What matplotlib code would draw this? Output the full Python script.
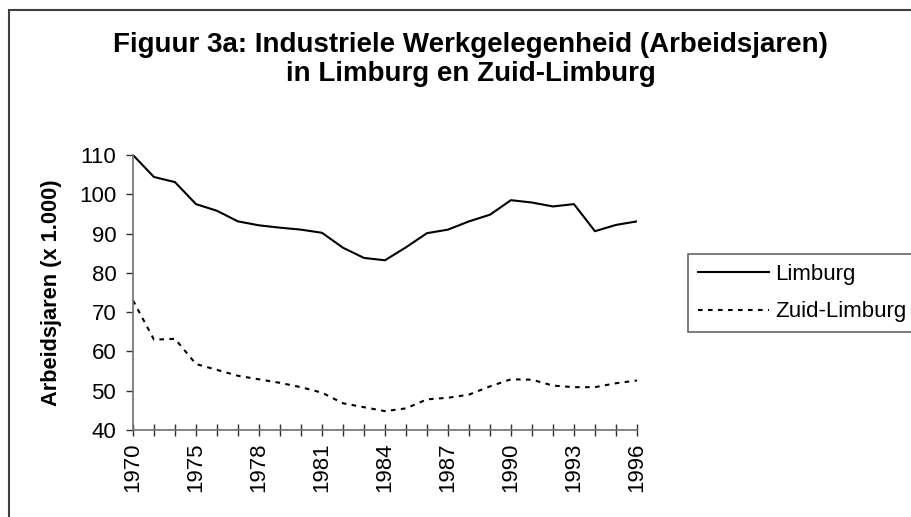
import matplotlib.pyplot as plt
from matplotlib.patches import Rectangle

plt.rcParams['font.family'] = ['Liberation Sans', 'DejaVu Sans']

# categories (only every third label is shown on the axis)
years = ['1970', '1972', '1974', '1975', '1976', '1977', '1978', '1979', '1980',
         '1981', '1982', '1983', '1984', '1985', '1986', '1987', '1988', '1989',
         '1990', '1991', '1992', '1993', '1994', '1995', '1996']
limburg = [110.0, 104.4, 103.1, 97.5, 95.8, 93.1, 92.1, 91.5, 91.0, 90.2, 86.4,
           83.8, 83.2, 86.5, 90.1, 91.0, 93.1, 94.8, 98.5, 97.9, 96.9, 97.5,
           90.6, 92.2, 93.1]
zuid_limburg = [73.0, 63.0, 63.2, 56.8, 55.3, 53.8, 52.9, 52.0, 50.9, 49.5, 46.8,
                45.8, 44.8, 45.5, 47.8, 48.2, 49.0, 51.1, 52.9, 52.8, 51.3, 50.9,
                50.9, 51.9, 52.6]
y_ticks = [40, 50, 60, 70, 80, 90, 100, 110]

fig = plt.figure(figsize=(9.12, 5.17), dpi=100)
ax = fig.add_axes([0.1458, 0.1683, 0.5526, 0.5319])

x = list(range(len(years)))
ax.plot(x, limburg, color='black', lw=1.5, label='Limburg')
ax.plot(x, zuid_limburg, color='black', lw=1.5, dashes=(2.2, 2.6), label='Zuid-Limburg')

ax.set_xlim(0, len(years) - 1)
ax.set_ylim(40, 110)
ax.set_yticks(y_ticks)
ax.set_xticks(x)
ax.set_xticklabels([y if i % 3 == 0 else '' for i, y in enumerate(years)], rotation=90)

for s in ['top', 'right']:
    ax.spines[s].set_visible(False)
for s in ['left', 'bottom']:
    ax.spines[s].set_color('#707070')
    ax.spines[s].set_linewidth(1.2)

ax.tick_params(axis='y', direction='out', length=5, width=1, color='#303030',
               labelsize=16, pad=7)
ax.tick_params(axis='x', direction='inout', length=8, width=1, color='#303030',
               labelsize=16, pad=5)

ax.set_ylabel('Arbeidsjaren (x 1.000)', fontsize=15.7, fontweight='bold', labelpad=12)

fig.text(0.516, 0.884, 'Figuur 3a: Industriele Werkgelegenheid (Arbeidsjaren)\n'
         'in Limburg en Zuid-Limburg', ha='center', va='center',
         fontsize=20, fontweight='bold', linespacing=1.15)

leg = ax.legend(loc='center left', bbox_to_anchor=(0.754, 0.433),
                bbox_transform=fig.transFigure, fontsize=16, frameon=True,
                fancybox=False, handlelength=3.2, handletextpad=0.3,
                borderpad=0.45, labelspacing=0.75, borderaxespad=0)
leg.get_frame().set_edgecolor('#404040')
leg.get_frame().set_linewidth(1.2)

# outer chart border, running off the right and bottom edges
fig.patches.append(Rectangle((9 / 912, -0.1), 1.2, 1 - 10 / 517 + 0.1,
                             transform=fig.transFigure, fill=False,
                             edgecolor='#404040', linewidth=1.5))

fig.savefig('out.png', dpi=100)
